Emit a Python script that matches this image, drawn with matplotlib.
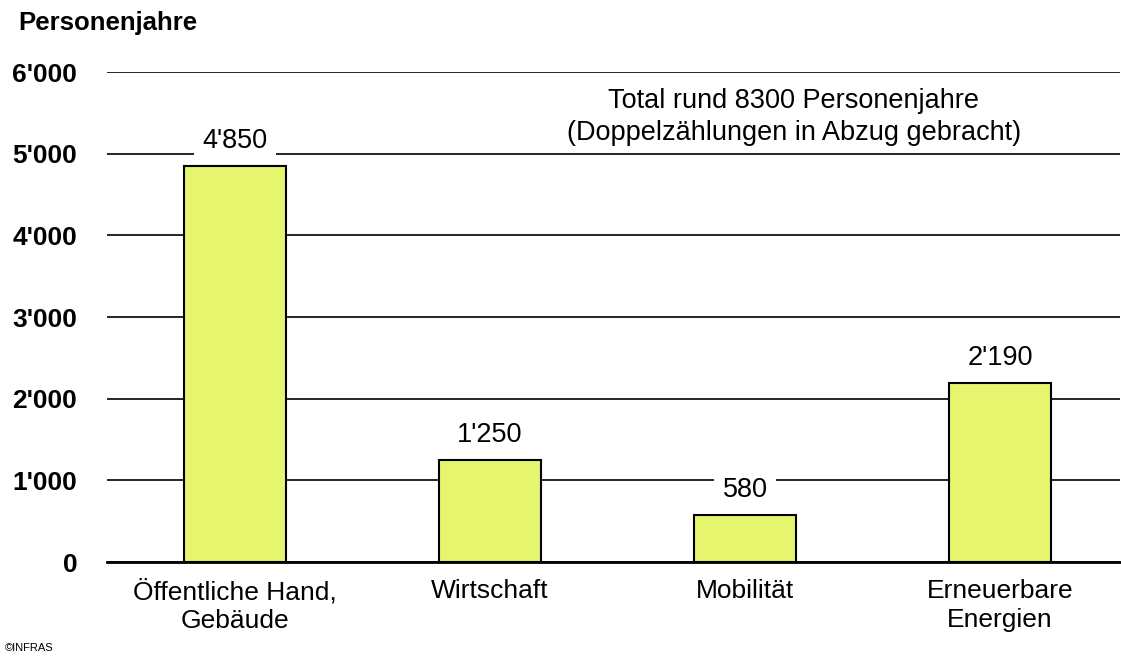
import matplotlib
matplotlib.use("Agg")
import matplotlib.pyplot as plt

categories = ["Öffentliche Hand,\nGebäude", "Wirtschaft", "Mobilität", "Erneuerbare\nEnergien"]
values = [4850, 1250, 580, 2190]
value_labels = ["4'850", "1'250", "580", "2'190"]
yticks = [0, 1000, 2000, 3000, 4000, 5000, 6000]
ytick_labels = ["0", "1'000", "2'000", "3'000", "4'000", "5'000", "6'000"]

plt.rcParams['font.family'] = ['Liberation Sans', 'DejaVu Sans']

W, H = 1121, 659
fig = plt.figure(figsize=(W / 100, H / 100), dpi=100)
ax = fig.add_axes([107 / W, 1 - 562 / H, (1120 - 107) / W, (562 - 72) / H])

x = list(range(len(categories)))
ax.bar(x, values, width=0.4, color="#E6F56E", edgecolor="black", linewidth=1.5, zorder=3)

ax.set_ylim(0, 6000)
ax.set_xlim(-0.502, 3.47)
ax.set_yticks(yticks)
ax.set_yticklabels(ytick_labels, fontsize=19, fontweight="bold")
ax.tick_params(axis="y", length=0, pad=21.5)
ax.tick_params(axis="x", length=0, pad=12)
ax.set_xticks(x)
ax.set_xticklabels(categories, fontsize=19, linespacing=1.27)

ax.yaxis.grid(True, color="black", linewidth=1.2, zorder=0)
ax.set_axisbelow(True)
for s in ["top", "right", "left"]:
    ax.spines[s].set_visible(False)
ax.spines["bottom"].set_linewidth(2)
ax.spines["bottom"].set_zorder(4)

for xi, v, lab in zip(x, values, value_labels):
    ax.annotate(lab, (xi, v), xytext=(0, 18), textcoords="offset points",
                ha="center", va="center", fontsize=19.5, zorder=5,
                bbox=dict(boxstyle="square,pad=0.3", fc="white", ec="none"))

ax.text(0.678, 1 - 45 / 490, "Total rund 8300 Personenjahre\n(Doppelzählungen in Abzug gebracht)",
        transform=ax.transAxes, ha="center", va="center", fontsize=19.5,
        linespacing=1.32, zorder=5,
        bbox=dict(boxstyle="square,pad=0.2", fc="white", ec="none"))

fig.text(18 / W, 1 - 23 / H, "Personenjahre", fontsize=18.5, fontweight="bold",
         ha="left", va="center")
fig.text(5 / W, 1 - 648 / H, "©INFRAS", fontsize=8, ha="left", va="center")

fig.savefig("out.png", dpi=100)
